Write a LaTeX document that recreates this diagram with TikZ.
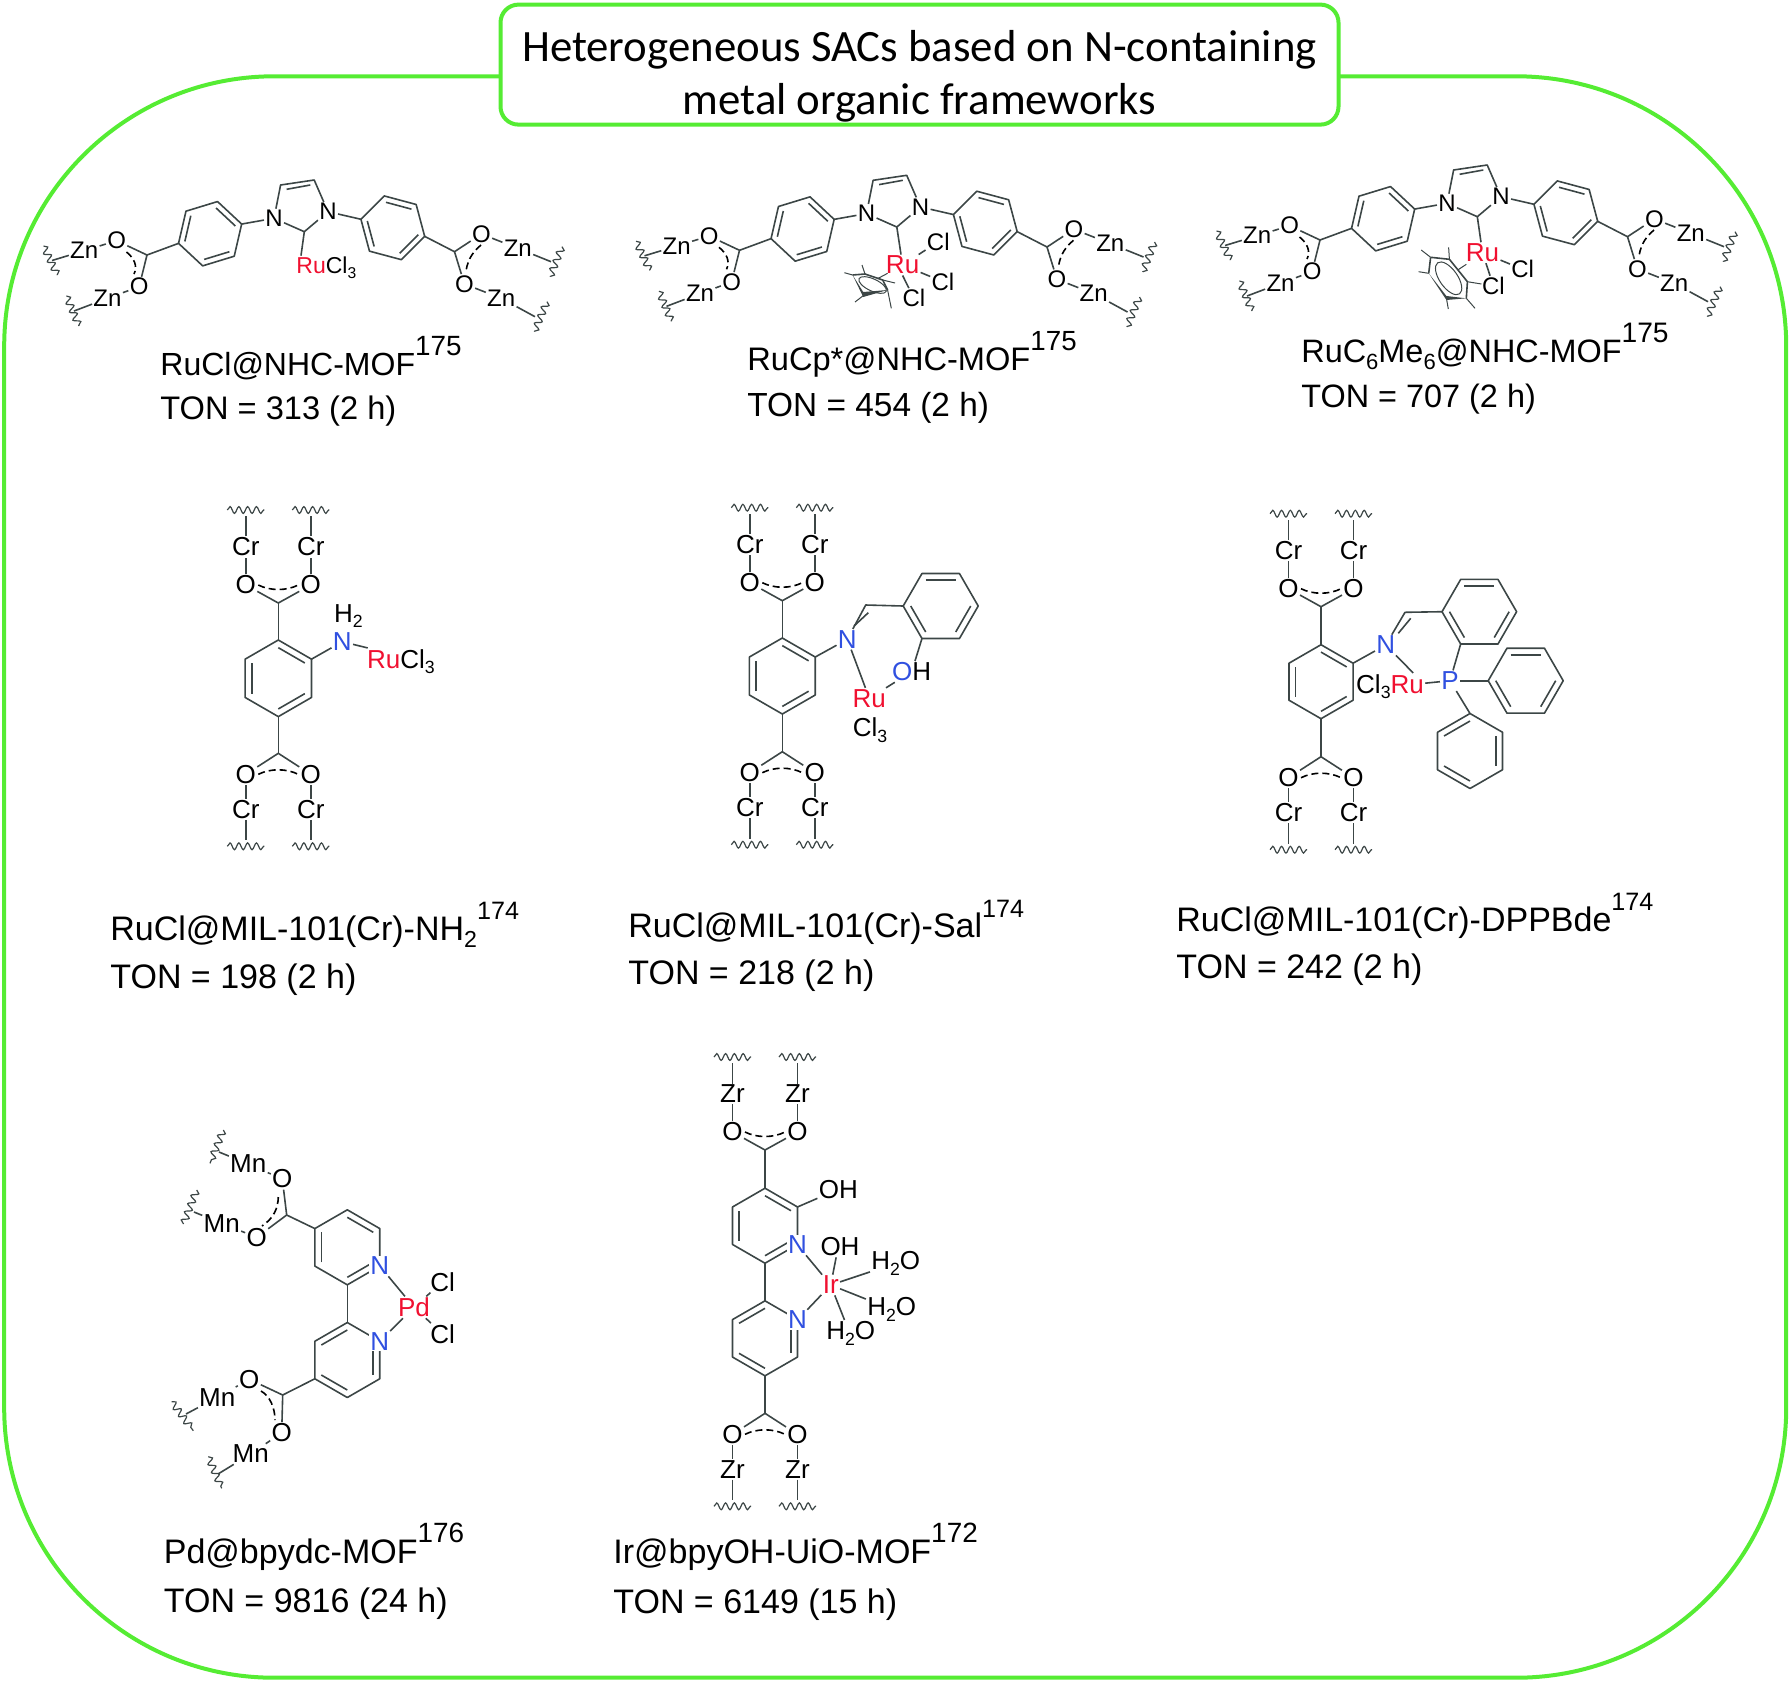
\documentclass[tikz,border=0pt]{standalone}
\usepackage{fontspec}
\setmainfont{Liberation Sans}
\newfontfamily\titlefont{Carlito}
\usetikzlibrary{decorations.pathmorphing}

\definecolor{framegreen}{HTML}{55EC33}
\definecolor{rured}{HTML}{F01030}
\definecolor{nblue}{HTML}{3050E0}
\definecolor{bondgrey}{HTML}{3C4646}

\newcommand{\ssub}[1]{\raisebox{-0.22em}{\scalebox{0.68}{#1}}}
\newcommand{\sups}[2][0.74]{\raisebox{0.6em}{\scalebox{#1}{#2}}}

\tikzset{
	bond/.style={draw=bondgrey,line width=0.8pt,line join=round},
	thinbond/.style={draw=bondgrey,line width=0.5pt},
	delocal/.style={draw=black,line width=0.8pt,dash pattern=on 3.5pt off 2pt},
	wavy/.style={draw=bondgrey,line width=0.6pt,decorate,decoration={snake,amplitude=1.7pt,segment length=4.4pt}},
	atom/.style={inner sep=0.5pt,font=\fontsize{13}{13}\selectfont},
	smallatom/.style={inner sep=0.5pt,font=\fontsize{12}{12}\selectfont},
	ruatom/.style={atom,text=rured},
	natom/.style={atom,text=nblue},
	ringn/.style={natom,fill=white},
	captext/.style={anchor=base west,inner sep=0pt,font=\fontsize{#1}{#1}\selectfont},
	captext/.default=17,
	framebox/.style={draw=framegreen,line width=2pt,rounded corners=135pt,inner sep=0pt,minimum width=891pt,minimum height=800.7pt},
	titlebox/.style={draw=framegreen,fill=white,line width=2pt,rounded corners=9pt,inner sep=0pt,minimum width=419pt,minimum height=60pt,align=center,font=\titlefont\fontsize{22.4}{26.5}\selectfont}
}

% name, centre, radius, first angle, double bonds
\newcommand{\hexring}[5]{
	\foreach \i in {0,...,5}
		\path #2 ++({#4+60*\i}:#3) coordinate (#1-\i);
	\draw[bond] (#1-0) -- (#1-1) -- (#1-2) -- (#1-3) -- (#1-4) -- (#1-5) -- cycle;
	\foreach \i in {#5} {
		\path #2 ++({#4+60*\i}:0.8*#3) coordinate (#1-ia);
		\path #2 ++({#4+60*\i+60}:0.8*#3) coordinate (#1-ib);
		\draw[bond] (#1-ia) -- (#1-ib);
	}
}

% name, C position, direction, O offset, metal
\newcommand{\carbox}[5]{
	\begin{scope}[shift={#2},yscale=#3]
	\coordinate (#1c) at (0,0);
	\node[atom] (#1oa) at (-32.5,#4) {O};
	\node[atom] (#1ob) at (32.5,#4) {O};
	\node[atom] (#1ma) at (-32.5,56) {#5};
	\node[atom] (#1mb) at (32.5,56) {#5};
	\coordinate (#1wa) at (-32.5,87);
	\coordinate (#1wb) at (32.5,87);
	\draw[bond] (#1oa) -- (#1c) -- (#1ob);
	\draw[bond] (#1oa) -- (#1ma) -- (#1wa);
	\draw[bond] (#1ob) -- (#1mb) -- (#1wb);
	\draw[delocal] (-20,#4) .. controls (-8,#4-6) and (8,#4-6) .. (20,#4);
	\draw[wavy] (-51,93) -- (-14,93);
	\draw[wavy] (14,93) -- (51,93);
	\end{scope}
}

% name, shift
\newcommand{\nhcunit}[2]{
	\begin{scope}[shift={#2}]
	\hexring{#1l}{(210.1,233.7)}{33}{-77}{0,2,4}
	\hexring{#1r}{(392.8,227.8)}{33}{-105}{0,2,4}
	\node[smallatom] (#1na) at (274,218.3) {N};
	\node[smallatom] (#1nb) at (328,211.7) {N};
	\coordinate (#1cb) at (304.3,231.7);
	\coordinate (#1cd) at (280.6,185);
	\coordinate (#1ce) at (314.2,180);
	\draw[bond] (#1na) -- (#1cd) -- (#1ce) -- (#1nb) -- (#1cb) -- (#1na);
	\draw[bond] (286.6,189.3) -- (310.3,185);
	\draw[bond] (#1l-1) -- (#1na);
	\draw[bond] (#1nb) -- (#1r-5);

	\coordinate (#1ca) at (147,255);
	\node[smallatom] (#1oa) at (116.6,240.7) {O};
	\node[smallatom] (#1ob) at (139.1,286.7) {O};
	\node[smallatom] (#1za) at (84.2,250.7) {Zn};
	\node[smallatom] (#1zb) at (107.5,298.3) {Zn};
	\coordinate (#1wa) at (52,260.5);
	\coordinate (#1wb) at (74,311);
	\draw[bond] (#1l-4) -- (#1ca);
	\draw[bond] (#1oa) -- (#1ca) -- (#1ob);
	\draw[bond] (#1oa) -- (#1za) -- (#1wa);
	\draw[bond] (#1ob) -- (#1zb) -- (#1wb);
	\draw[delocal] (126.5,252) .. controls (134,258) and (138,266) .. (134,274);
	\draw[wavy] (43.5,246) -- (57.3,275);
	\draw[wavy] (66.4,296) -- (79,326);

	\coordinate (#1cc) at (454.5,251.7);
	\node[smallatom] (#1oc) at (481.4,234) {O};
	\node[smallatom] (#1od) at (464.4,284) {O};
	\node[smallatom] (#1zc) at (517.8,248.3) {Zn};
	\node[smallatom] (#1zd) at (501.2,298.3) {Zn};
	\coordinate (#1wc) at (551,261.7);
	\coordinate (#1wd) at (535,316.7);
	\draw[bond] (#1r-2) -- (#1cc);
	\draw[bond] (#1oc) -- (#1cc) -- (#1od);
	\draw[bond] (#1oc) -- (#1zc) -- (#1wc);
	\draw[bond] (#1od) -- (#1zd) -- (#1wd);
	\draw[delocal] (481,245) .. controls (474,251) and (468,258) .. (466,271);
	\draw[wavy] (562,246.7) -- (550.2,276.7);
	\draw[wavy] (547,301.7) -- (534.4,331.7);
	\end{scope}
}

\begin{document}
\begin{tikzpicture}[x=0.5pt,y=-0.5pt]
\useasboundingbox (0,0) rectangle (1791,1682);

\node[framebox] (frame) at (895.2,877) {};
\node[titlebox] (title) at (919.5,64.6) {\rule{0pt}{27pt}Heterogeneous SACs based on N-containing\\metal organic frameworks};

% top row
\nhcunit{A}{(0,0)}
\node[smallatom,anchor=west,font=\fontsize{11.5}{11.5}\selectfont] (ruA) at (295,268) {\textcolor{rured}{Ru}Cl\ssub{3}};
\draw[bond] (Acb) -- ([xshift=3pt]ruA.north west);
\node[captext=16] (capA) at (160,375) {RuCl@NHC-MOF\sups[0.87]{175}};
\node[captext=16.3] (tonA) at (160,419) {TON = 313 (2 h)};

\nhcunit{B}{(592.5,-4.7)}
\node[ruatom] (ruB) at (902.6,265) {Ru};
\node[smallatom] (clBa) at (938.3,241.7) {Cl};
\node[smallatom] (clBb) at (942.9,281.7) {Cl};
\node[smallatom] (clBc) at (913.9,298.3) {Cl};
\draw[bond] (Bcb) -- (ruB);
\draw[bond] (ruB) -- (clBa);
\draw[bond] (ruB) -- (clBb);
\draw[bond] (ruB.south) -- (clBc);
\draw[bond] (852.6,275) -- (865,274) -- (882.7,280) -- (887.6,290);
\fill[bondgrey] (852.6,275) -- (863.2,297) -- (887.6,290) -- (863.2,292) -- cycle;
\draw[thinbond] (844.4,272.7) -- (852.6,275);
\draw[thinbond] (862,265) -- (865,274);
\draw[thinbond] (882.7,280) -- (895,283);
\draw[thinbond] (887.6,290) -- (891.3,308.3);
\draw[thinbond] (863.2,295.7) -- (855,302);
\draw[thinbond,rotate around={-25:(872.6,285)}] (872.6,285) ellipse [x radius=15,y radius=6];
\draw[thinbond] (887.6,273.3) -- (878.2,278.3);
\node[captext=16.3] (capB) at (747,370) {RuCp*@NHC-MOF\sups[0.85]{175}};
\node[captext=16.7] (tonB) at (747,416) {TON = 454 (2 h)};

\nhcunit{C}{(1173,-15)}
\node[ruatom] (ruC) at (1482.5,252.7) {Ru};
\node[smallatom] (clCa) at (1522.7,269.3) {Cl};
\node[smallatom] (clCb) at (1493.4,286) {Cl};
\draw[bond] (Ccb) -- (ruC);
\draw[bond] (ruC) -- (clCa);
\draw[bond] (ruC) -- (clCb);
\draw[bond] (1430.6,257.3) -- (1449.4,259.3) -- (1467.4,281.7) -- (1466.3,298.3);
\draw[bond] (1430.6,257.3) -- (1428.7,273.3);
\fill[bondgrey] (1428.7,273.3) -- (1446.4,300) -- (1466.3,298.3) -- (1446.4,296) -- cycle;
\draw[thinbond] (1430.6,257.3) -- (1421.2,250);
\draw[thinbond] (1449.4,259.3) -- (1448.6,247.3);
\draw[thinbond] (1467.4,281.7) -- (1481.4,284);
\draw[thinbond] (1466.3,298.3) -- (1475,308.3);
\draw[thinbond] (1446.4,298.3) -- (1448.3,309);
\draw[thinbond] (1428.7,273.3) -- (1418.6,271.7);
\draw[thinbond,rotate around={-55:(1448.6,278.3)}] (1448.6,278.3) ellipse [x radius=19,y radius=9];
\draw[thinbond] (1466.3,264.3) -- (1457.7,270);
\node[captext=16.2] (capC) at (1301,362) {RuC\ssub{6}Me\ssub{6}@NHC-MOF\sups[0.87]{175}};
\node[captext=16.2] (tonC) at (1301,407) {TON = 707 (2 h)};

% middle row
\carbox{Dt}{(278.3,603)}{-1}{18}{Cr}
\carbox{Db}{(278.3,753.3)}{1}{21}{Cr}
\hexring{ringD}{(278.3,678.3)}{38.3}{-90}{0,2,4}
\draw[bond] (Dtc) -- (ringD-0);
\draw[bond] (ringD-3) -- (Dbc);
\node[natom] (nD) at (342.3,641.7) {N};
\node[atom] (hD) at (348.3,616) {H\ssub{2}};
\node[atom,anchor=west] (ruD) at (365.7,661.7) {\textcolor{rured}{Ru}Cl\ssub{3}};
\draw[bond] (ringD-1) -- (nD);
\draw[bond] (nD) -- ([xshift=1pt]ruD.north west);
\node[captext] (capD) at (110,940) {RuCl@MIL-101(Cr)-NH\ssub{2}\sups{174}};
\node[captext] (tonD) at (110,988) {TON = 198 (2 h)};

\carbox{Et}{(782.3,600.7)}{-1}{18}{Cr}
\carbox{Eb}{(782.3,751.7)}{1}{21}{Cr}
\hexring{ringE}{(782.3,676)}{38}{-90}{0,2,4}
\hexring{ringEs}{(940.7,606)}{37.5}{0}{0,2,4}
\draw[bond] (Etc) -- (ringE-0);
\draw[bond] (ringE-3) -- (Ebc);
\node[natom] (nE) at (847.3,639.3) {N};
\coordinate (cE) at (865.7,605);
\node[ruatom] (ruE) at (869.3,698.3) {Ru};
\node[atom] (oE) at (911.7,671.7) {\textcolor{nblue}{O}H};
\node[atom] (clE) at (870,730) {Cl\ssub{3}};
\draw[bond] (ringE-1) -- (nE);
\draw[bond] (nE) -- (cE) -- (ringEs-3);
\draw[bond] (854,626) -- (868.3,612.7);
\draw[bond] (nE) -- (ruE);
\draw[bond] (ringEs-2) -- (oE);
\draw[bond] (oE) -- (ruE);
\node[captext] (capE) at (628,937.5) {RuCl@MIL-101(Cr)-Sal\sups{174}};
\node[captext] (tonE) at (628,984) {TON = 218 (2 h)};

\carbox{Ft}{(1321,606.7)}{-1}{18}{Cr}
\carbox{Fb}{(1321,756.7)}{1}{21}{Cr}
\hexring{ringF}{(1321,681.7)}{37}{-90}{0,2,4}
\hexring{ringFa}{(1479.3,611.7)}{37.3}{0}{0,2,4}
\hexring{ringFb}{(1525.7,680.7)}{37.5}{0}{0,2,4}
\hexring{ringFc}{(1470,751)}{37.5}{-90}{1,3,5}
\draw[bond] (Ftc) -- (ringF-0);
\draw[bond] (ringF-3) -- (Fbc);
\node[natom] (nF) at (1385.7,645) {N};
\coordinate (cF) at (1405,612.3);
\node[atom] (ruF) at (1390,686.7) {Cl\ssub{3}\textcolor{rured}{Ru}};
\node[natom] (pF) at (1450,680.7) {P};
\draw[bond] (ringF-1) -- (nF);
\draw[bond] (nF) -- (cF) -- (ringFa-3);
\draw[bond] (1398.3,633.3) -- (1410.7,618.3);
\draw[bond] (nF) -- ([xshift=-6pt]ruF.north east);
\draw[bond] (ruF) -- (pF);
\draw[bond] (ringFa-2) -- (pF);
\draw[bond] (pF) -- (ringFb-3);
\draw[bond] (pF) -- (ringFc-0);
\node[captext] (capF) at (1176,931) {RuCl@MIL-101(Cr)-DPPBde\sups{174}};
\node[captext] (tonF) at (1176,978.5) {TON = 242 (2 h)};

% bottom row
\hexring{ringG}{(347.3,1247.3)}{37.5}{-90}{0,2,4}
\hexring{ringGb}{(347.3,1360)}{37.5}{-90}{1,3,5}
\node[ringn] (nG) at (379.8,1266) {N};
\node[ringn] (nGb) at (379.8,1341.3) {N};
\node[ruatom] (pdG) at (414,1307.3) {Pd};
\node[atom] (clG) at (442.7,1281.7) {Cl};
\node[atom] (clGb) at (442.7,1334) {Cl};
\draw[bond] (ringG-3) -- (ringGb-0);
\draw[bond] (nG) -- (pdG);
\draw[bond] (nGb) -- (pdG);
\draw[bond] (pdG) -- (clG);
\draw[bond] (pdG) -- (clGb);
\coordinate (cG) at (286.7,1215);
\coordinate (cGb) at (282.7,1395);
\node[atom] (oGa) at (282.3,1179) {O};
\node[atom] (oGb) at (256.7,1237.3) {O};
\node[atom] (oGc) at (249.3,1379.3) {O};
\node[atom] (oGd) at (281.7,1432.7) {O};
\node[atom] (mnGa) at (248.3,1164) {Mn};
\node[atom] (mnGb) at (221.7,1223.3) {Mn};
\node[atom] (mnGc) at (217.3,1397.3) {Mn};
\node[atom] (mnGd) at (250.7,1454) {Mn};
\draw[bond] (ringG-5) -- (cG);
\draw[bond] (ringGb-4) -- (cGb);
\draw[bond] (oGa) -- (cG) -- (oGb);
\draw[bond] (oGc) -- (cGb) -- (oGd);
\draw[bond] (oGa) -- (mnGa);
\draw[bond] (oGb) -- (mnGb);
\draw[bond] (oGc) -- (mnGc);
\draw[bond] (oGd) -- (mnGd);
\draw[delocal] (278.3,1197) .. controls (278,1208) and (274,1218) .. (262,1226);
\draw[delocal] (261,1391) .. controls (270,1396) and (275,1408) .. (275,1420);
\coordinate (wGa) at (219,1152);
\coordinate (wGb) at (194,1212);
\coordinate (wGc) at (186,1414);
\coordinate (wGd) at (218,1474);
\draw[bond] (mnGa) -- (wGa);
\draw[bond] (mnGb) -- (wGb);
\draw[bond] (mnGc) -- (wGc);
\draw[bond] (mnGd) -- (wGd);
\draw[wavy] (223.3,1130) -- (210,1163.3);
\draw[wavy] (196.7,1190) -- (183.3,1224);
\draw[wavy] (171.7,1401.7) -- (193.3,1430.7);
\draw[wavy] (208.3,1456.7) -- (221.7,1488.3);
\node[captext] (capG) at (163.5,1563) {Pd@bpydc-MOF\sups[0.82]{176}};
\node[captext] (tonG) at (163.5,1612) {TON = 9816 (24 h)};

\carbox{Ht}{(765,1150)}{-1}{18}{Zr}
\carbox{Hb}{(765,1413.3)}{1}{21}{Zr}
\hexring{ringH}{(765,1225.7)}{37.5}{-90}{0,2,4}
\hexring{ringHb}{(765,1338.3)}{37.5}{-90}{1,3,5}
\draw[bond] (Htc) -- (ringH-0);
\draw[bond] (ringHb-3) -- (Hbc);
\draw[bond] (ringH-3) -- (ringHb-0);
\node[ringn] (nH) at (797.5,1245) {N};
\node[ringn] (nHb) at (797.5,1320) {N};
\node[atom] (ohH) at (838.3,1189.3) {OH};
\node[ruatom] (irH) at (830.7,1285) {Ir};
\node[atom] (ohHb) at (840,1246.7) {OH};
\node[atom] (waHa) at (895.7,1263.3) {H\ssub{2}O};
\node[atom] (waHb) at (891.7,1309.3) {H\ssub{2}O};
\node[atom] (waHc) at (850.7,1333.3) {H\ssub{2}O};
\draw[bond] (ringH-1) -- (ohH);
\draw[bond] (nH) -- (irH);
\draw[bond] (nHb) -- (irH);
\draw[bond] (irH) -- (ohHb.250);
\draw[bond] (irH) -- (waHa);
\draw[bond] (irH) -- (waHb);
\draw[bond] (irH) -- (waHc.115);
\node[captext] (capH) at (613,1563) {Ir@bpyOH-UiO-MOF\sups[0.82]{172}};
\node[captext] (tonH) at (613,1613) {TON = 6149 (15 h)};

\end{tikzpicture}
\end{document}
